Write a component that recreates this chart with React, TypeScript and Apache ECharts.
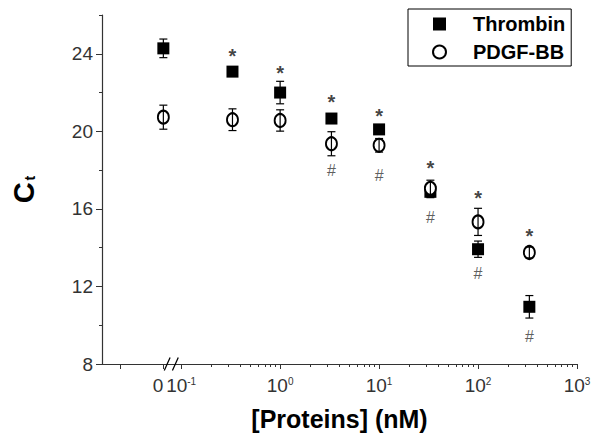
import React, { useEffect, useRef } from "react";
import * as echarts from "echarts";

// concentrations in nM (0 is drawn at a broken-axis position)
const concentrations = [0, 0.33, 1, 3.3, 10, 33, 100, 330];
const zeroPosition = -1.18; // log10-axis position used for the "0" category
const thrombin = [24.28, 23.08, 22.0, 20.66, 20.1, 16.88, 13.92, 10.95];
const thrombinErr = [0.48, 0.2, 0.58, 0.15, 0.2, 0.3, 0.42, 0.58];
const pdgf = [20.73, 20.6, 20.56, 19.36, 19.28, 17.06, 15.33, 13.75];
const pdgfErr = [0.62, 0.56, 0.55, 0.62, 0.35, 0.42, 0.7, 0.28];
const starConc = [0.33, 1, 3.3, 10, 33, 100, 330];
const starY = [24.03, 23.14, 21.68, 20.94, 18.28, 16.7, 14.75];
const hashConc = [3.3, 10, 33, 100, 330];
const hashY = [17.99, 17.73, 15.58, 12.67, 9.4];

const xMin = -1.8;
const xMax = 3;
const xMajorTicks = [-1.62, zeroPosition, -1, 0, 1, 2, 3];
const xLabelValues = [-1, 0, 1, 2, 3];
const xLabelTexts = ["{b|10}{s|-1}", "{b|10}{s|0}", "{b|10}{s|1}", "{b|10}{s|2}", "{b|10}{s|3}"];
const zeroLabel = "0";
const minorMultipliers = [2, 3, 4, 5, 6, 7, 8, 9];
const minorDecades = [-1, 0, 1, 2];
const breakPosition = -1.1;

const yMajor = [8, 12, 16, 20, 24];
const yMinor = [10, 14, 18, 22, 26];

const FONT = "'Liberation Sans', Arial, sans-serif";

const xOf = (c: number) => (c === 0 ? zeroPosition : Math.log10(c));

export default function App() {
  const ref = useRef<HTMLDivElement>(null);
  useEffect(() => {
    if (!ref.current) return;
    const chart = echarts.init(ref.current, undefined, { renderer: "svg" });
    const xMinor: number[] = [];
    minorDecades.forEach((d) => minorMultipliers.forEach((m) => xMinor.push(d + Math.log10(m))));

    const errRender = (params: any, api: any) => {
      const x = api.value(0);
      const lo = api.value(1);
      const hi = api.value(2);
      const top = api.coord([x, hi]);
      const bot = api.coord([x, lo]);
      const w = 4;
      const st = { stroke: "#000", lineWidth: 1.2 };
      return {
        type: "group",
        children: [
          { type: "line", shape: { x1: top[0], y1: top[1], x2: bot[0], y2: bot[1] }, style: st },
          { type: "line", shape: { x1: top[0] - w, y1: top[1], x2: top[0] + w, y2: top[1] }, style: st },
          { type: "line", shape: { x1: bot[0] - w, y1: bot[1], x2: bot[0] + w, y2: bot[1] }, style: st },
        ],
      };
    };

    const axisLineStyle = { color: "#333", width: 1.2 };
    const labelRich = {
      b: { fontFamily: FONT, fontSize: 19, color: "#333" },
      s: { fontFamily: FONT, fontSize: 10, color: "#333", verticalAlign: "top", padding: [0, 0, 9, 0] },
    };

    chart.setOption({
      animation: false,
      backgroundColor: "#fff",
      grid: { left: 102, right: 23, top: 15, bottom: 76, containLabel: false, outerBoundsMode: "none" },
      legend: {
        left: 408,
        top: 9,
        orient: "vertical",
        itemWidth: 13,
        itemHeight: 13,
        itemGap: 8,
        padding: [5, 6, 4, 24],
        borderColor: "#000",
        borderWidth: 1,
        data: ["Thrombin", "PDGF-BB"],
        formatter: (n: string) => "{t|" + n + "}",
        textStyle: {
          rich: {
            t: { fontFamily: FONT, fontSize: 20, fontWeight: "bold", color: "#000", padding: [0, 0, 0, 22], lineHeight: 20 },
          },
        },
      },
      xAxis: [
        {
          type: "value",
          min: xMin,
          max: xMax,
          name: "[Proteins] (nM)",
          nameLocation: "middle",
          nameGap: 42,
          nameTextStyle: { fontFamily: FONT, fontSize: 25, fontWeight: "bold", color: "#000" },
          axisLine: { onZero: false, lineStyle: axisLineStyle },
          splitLine: { show: false },
          axisTick: { show: true, length: 5, customValues: xMajorTicks, lineStyle: { color: "#333" } },
          axisLabel: {
            customValues: xLabelValues,
            showMinLabel: true,
            showMaxLabel: true,
            hideOverlap: false,
            margin: 12,
            formatter: (v: number) => {
              const i = xLabelValues.findIndex((u) => Math.abs(u - v) < 1e-6);
              return i >= 0 ? xLabelTexts[i] : "";
            },
            fontFamily: FONT,
            fontSize: 19,
            color: "#333",
            rich: labelRich,
          },
        },
        {
          type: "value",
          min: xMin,
          max: xMax,
          position: "bottom",
          axisLine: { show: false, onZero: false },
          splitLine: { show: false },
          axisLabel: {
            show: true,
            customValues: [zeroPosition],
            showMinLabel: true,
            margin: 12,
            align: "right",
            formatter: () => "{b|" + zeroLabel + "}",
            rich: labelRich,
          },
          axisTick: { show: true, length: 3, customValues: xMinor, lineStyle: { color: "#333" } },
        },
      ],
      yAxis: [
        {
          type: "value",
          min: 8,
          max: 26,
          position: "left",
          name: "{c|C}{t|t}",
          nameLocation: "middle",
          nameRotate: 90,
          nameGap: 64,
          nameTextStyle: {
            rich: {
              c: { fontFamily: FONT, fontSize: 29, fontWeight: "bold", color: "#000" },
              t: { fontFamily: FONT, fontSize: 14, fontWeight: "bold", color: "#000", padding: [0, 0, -12, 2] },
            },
          },
          axisLine: { show: true, onZero: false, lineStyle: axisLineStyle },
          splitLine: { show: false },
          axisTick: { show: true, length: 6, customValues: yMajor, lineStyle: { color: "#333" } },
          axisLabel: { customValues: yMajor, fontFamily: FONT, fontSize: 19, color: "#333", margin: 9 },
        },
        {
          type: "value",
          min: 8,
          max: 26,
          position: "left",
          axisLine: { show: false, onZero: false },
          splitLine: { show: false },
          axisLabel: { show: false },
          axisTick: { show: true, length: 3, customValues: yMinor, lineStyle: { color: "#333" } },
        },
      ],
      series: [
        {
          name: "Thrombin",
          type: "scatter",
          symbol: "rect",
          symbolSize: 12,
          itemStyle: { color: "#000", opacity: 1 },
          z: 2,
          data: concentrations.map((c, i) => [xOf(c), thrombin[i]]),
        },
        {
          type: "custom",
          renderItem: errRender,
          z: 3,
          encode: { x: 0, y: [1, 2] },
          data: concentrations.map((c, i) => [xOf(c), thrombin[i] - thrombinErr[i], thrombin[i] + thrombinErr[i]]),
        },
        {
          name: "PDGF-BB",
          type: "scatter",
          symbol: "emptyCircle",
          symbolSize: [11, 13],
          itemStyle: { color: "#000", borderColor: "#000", borderWidth: 1.2, opacity: 1 },
          z: 4,
          data: concentrations.map((c, i) => [xOf(c), pdgf[i]]),
        },
        {
          type: "custom",
          renderItem: errRender,
          z: 5,
          encode: { x: 0, y: [1, 2] },
          data: concentrations.map((c, i) => [xOf(c), pdgf[i] - pdgfErr[i], pdgf[i] + pdgfErr[i]]),
        },
        {
          type: "scatter",
          symbolSize: 1,
          itemStyle: { color: "transparent" },
          z: 6,
          label: { show: true, position: "inside", formatter: "*", fontFamily: FONT, fontSize: 20, fontWeight: "bold", color: "#111", offset: [0, 3] },
          data: starConc.map((c, i) => [xOf(c), starY[i]]),
        },
        {
          type: "scatter",
          symbolSize: 1,
          itemStyle: { color: "transparent" },
          z: 6,
          label: { show: true, position: "inside", formatter: "#", fontFamily: FONT, fontSize: 16, color: "#333" },
          data: hashConc.map((c, i) => [xOf(c), hashY[i]]),
        },
        {
          type: "scatter",
          symbol: "path://M0,14 L5,0 M7,14 L12,0",
          symbolSize: [14, 13],
          itemStyle: { color: "transparent", borderColor: "#000", borderWidth: 1.2, opacity: 1 },
          z: 7,
          data: [[breakPosition, 8]],
        },
      ],
    });
    return () => chart.dispose();
  }, []);
  return <div ref={ref} style={{ position: "absolute", left: 0, top: 0, width: 600, height: 440 }} />;
}
